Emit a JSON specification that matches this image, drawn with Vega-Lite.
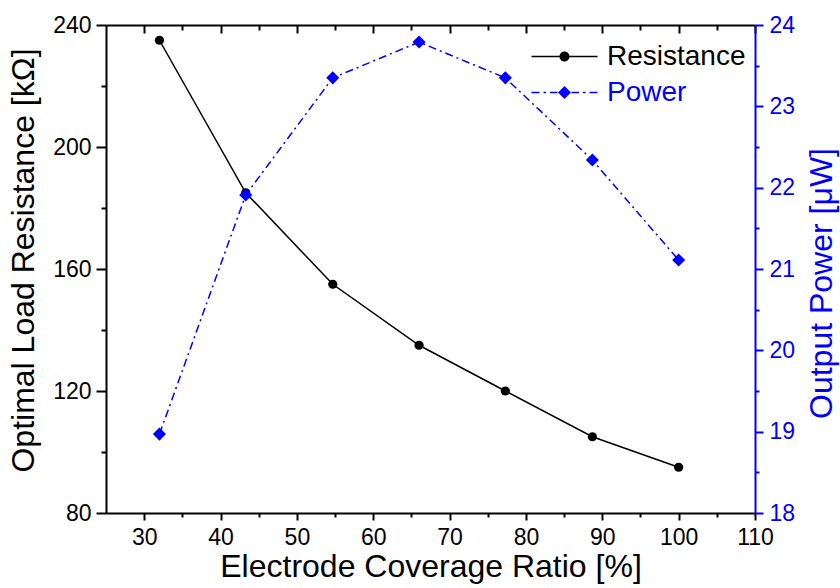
{
  "$schema": "https://vega.github.io/schema/vega-lite/v6.json",
  "width": 649,
  "height": 488,
  "autosize": "none",
  "padding": {"left": 106, "top": 25, "right": 85, "bottom": 75},
  "background": "white",
  "config": {
    "view": {"stroke": null},
    "font": "Liberation Sans",
    "axis": {
      "grid": false,
      "labelFont": "Liberation Sans",
      "titleFont": "Liberation Sans",
      "labelFontSize": 23,
      "titleFontSize": 32,
      "titleFontWeight": "normal",
      "domainWidth": 2,
      "tickWidth": 2,
      "labelBound": false,
      "labelFlush": false,
      "labelOverlap": false
    }
  },
  "data": {
    "values": [
      {"ratio": 32, "series": "Resistance", "value": 235},
      {"ratio": 43.3, "series": "Resistance", "value": 185},
      {"ratio": 54.7, "series": "Resistance", "value": 155},
      {"ratio": 66, "series": "Resistance", "value": 135},
      {"ratio": 77.3, "series": "Resistance", "value": 120},
      {"ratio": 88.7, "series": "Resistance", "value": 105},
      {"ratio": 100, "series": "Resistance", "value": 95},
      {"ratio": 32, "series": "Power", "value": 18.97},
      {"ratio": 43.3, "series": "Power", "value": 21.91},
      {"ratio": 54.7, "series": "Power", "value": 23.35},
      {"ratio": 66, "series": "Power", "value": 23.79},
      {"ratio": 77.3, "series": "Power", "value": 23.35},
      {"ratio": 88.7, "series": "Power", "value": 22.34},
      {"ratio": 100, "series": "Power", "value": 21.11}
    ]
  },
  "layer": [
    {
      "transform": [{"filter": "datum.series === 'Resistance'"}],
      "encoding": {
        "x": {
          "field": "ratio", "type": "quantitative",
          "scale": {"domain": [25, 110], "nice": false, "zero": false},
          "axis": {
            "orient": "bottom",
            "title": "Electrode Coverage Ratio [%]",
            "values": [30, 35, 40, 45, 50, 55, 60, 65, 70, 75, 80, 85, 90, 95, 100, 105, 110],
            "labelExpr": "datum.value % 10 === 0 ? format(datum.value, 'd') : ''",
            "tickSize": {"condition": {"test": "datum.value % 10 === 0", "value": 7}, "value": 4},
            "labelPadding": 6,
            "titlePadding": 2,
            "domainColor": "black", "tickColor": "black", "labelColor": "black", "titleColor": "black"
          }
        },
        "y": {
          "field": "value", "type": "quantitative",
          "scale": {"domain": [80, 240], "nice": false, "zero": false},
          "axis": {
            "orient": "left",
            "title": "Optimal Load Resistance [kΩ]",
            "values": [80, 100, 120, 140, 160, 180, 200, 220, 240],
            "labelExpr": "datum.value % 40 === 0 ? format(datum.value, 'd') : ''",
            "tickSize": {"condition": {"test": "datum.value % 40 === 0", "value": 10}, "value": 5},
            "labelPadding": 5,
            "titlePadding": 12,
            "titleY": 235,
            "domainColor": "black", "tickColor": "black", "labelColor": "black", "titleColor": "black"
          }
        }
      },
      "layer": [
        {"mark": {"type": "line", "color": "black", "strokeWidth": 1.5}},
        {
          "mark": {"type": "point", "shape": "circle", "filled": true, "size": 85, "opacity": 1, "color": "black"}
        },
        {
          "mark": {"type": "point", "filled": true, "opacity": 0},
          "encoding": {
            "color": {
              "field": "series", "type": "nominal",
              "scale": {"domain": ["Resistance", "Power"], "range": ["#000000", "#0000ff"]},
              "legend": {
                "title": null,
                "orient": "none",
                "legendX": 441,
                "legendY": 14,
                "padding": 0,
                "symbolSize": 1225,
                "symbolStrokeWidth": 0,
                "symbolOpacity": 1,
                "labelFont": "Liberation Sans",
                "labelFontSize": 28,
                "labelOffset": 25,
                "rowPadding": 4,
                "encode": {
                  "labels": {"update": {"fill": {"signal": "datum.value === 'Power' ? '#0000ff' : '#000000'"}}}
                }
              }
            },
            "shape": {
              "field": "series", "type": "nominal",
              "scale": {
                "domain": ["Resistance", "Power"],
                "range": [
                  "M-1.886,-0.043H1.886V0.043H-1.886Z M0.286,0A0.286,0.286 0 1,1 -0.286,0A0.286,0.286 0 1,1 0.286,0Z",
                  "M-1.886,-0.043H-1.429V0.043H-1.886Z M-1.2,-0.043H-1.057V0.043H-1.2Z M-0.829,-0.043H-0.4V0.043H-0.829Z M0.4,-0.043H0.829V0.043H0.4Z M1.057,-0.043H1.2V0.043H1.057Z M1.429,-0.043H1.886V0.043H1.429Z M0,-0.37L0.37,0L0,0.37L-0.37,0Z"
                ]
              },
              "legend": {
                "title": null,
                "orient": "none",
                "legendX": 441,
                "legendY": 14,
                "padding": 0,
                "symbolSize": 1225,
                "symbolStrokeWidth": 0,
                "symbolOpacity": 1,
                "labelFont": "Liberation Sans",
                "labelFontSize": 28,
                "labelOffset": 25,
                "rowPadding": 4
              }
            }
          }
        }
      ]
    },
    {
      "transform": [{"filter": "datum.series === 'Power'"}],
      "encoding": {
        "x": {
          "field": "ratio", "type": "quantitative",
          "scale": {"domain": [25, 110], "nice": false, "zero": false},
          "axis": {
            "orient": "top",
            "title": null,
            "labels": false,
            "values": [30, 35, 40, 45, 50, 55, 60, 65, 70, 75, 80, 85, 90, 95, 100, 105, 110],
            "tickSize": {"condition": {"test": "datum.value % 10 === 0", "value": -8}, "value": -5},
            "domainColor": "black", "tickColor": "black"
          }
        },
        "y": {
          "field": "value", "type": "quantitative",
          "scale": {"domain": [18, 24], "nice": false, "zero": false},
          "axis": {
            "orient": "right",
            "title": "Output Power [μW]",
            "titleAngle": 270,
            "titleBaseline": "top",
            "values": [18, 18.5, 19, 19.5, 20, 20.5, 21, 21.5, 22, 22.5, 23, 23.5, 24],
            "labelExpr": "datum.value % 1 === 0 ? format(datum.value, 'd') : ''",
            "tickSize": {"condition": {"test": "datum.value % 1 === 0", "value": 8}, "value": 4},
            "labelPadding": 6,
            "titlePadding": 12,
            "titleY": 258,
            "domainColor": "#0000ff", "tickColor": "#0000ff", "labelColor": "#0000ff", "titleColor": "#0000ff"
          }
        }
      },
      "layer": [
        {"mark": {"type": "line", "color": "#0000ff", "strokeWidth": 1.5, "strokeDash": [8, 4, 2, 4]}},
        {
          "mark": {"type": "point", "shape": "diamond", "filled": true, "size": 170, "opacity": 1, "color": "#0000ff"}
        },
        {
          "mark": {"type": "point", "filled": true, "opacity": 0},
          "encoding": {
            "color": {"field": "series", "type": "nominal"},
            "shape": {"field": "series", "type": "nominal"}
          }
        }
      ]
    }
  ],
  "resolve": {"scale": {"y": "independent"}, "axis": {"x": "independent"}}
}
